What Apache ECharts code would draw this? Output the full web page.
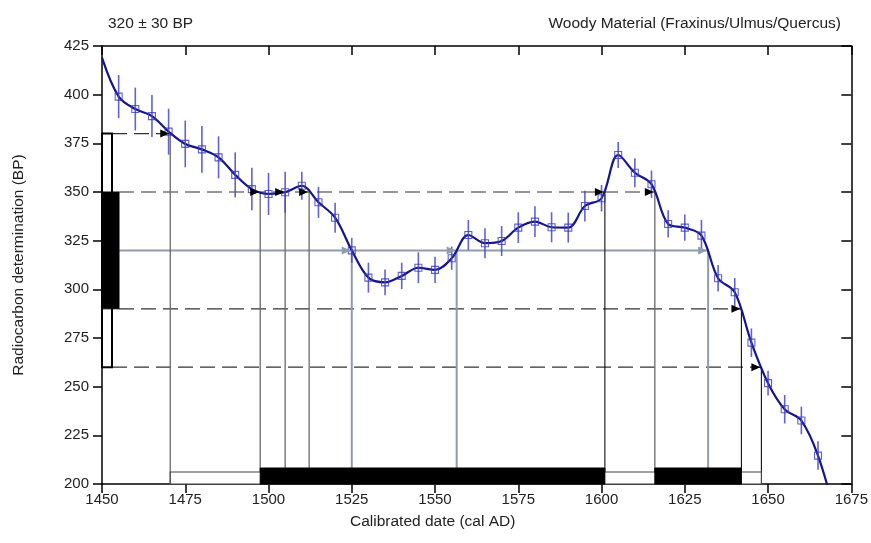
<!DOCTYPE html>
<html>
<head>
<meta charset="utf-8">
<script src="https://cdn.jsdelivr.net/npm/echarts@6/dist/echarts.min.js"></script>
<style>
html,body{margin:0;padding:0;background:#fff;}
#chart{width:871px;height:543px;}
</style>
</head>
<body>
<div id="chart"></div>
<script>
// ---- data ----
const titleLeft = '320 ± 30 BP';
const titleRight = 'Woody Material (Fraxinus/Ulmus/Quercus)';
const xTitle = 'Calibrated date (cal AD)';
const yTitle = 'Radiocarbon determination (BP)';

const curveYears = [1450,1455,1460,1465,1470,1475,1480,1485,1490,1495,1500,1505,1510,1515,1520,1525,1530,1535,1540,1545,1550,1555,1560,1565,1570,1575,1580,1585,1590,1595,1600,1605,1610,1615,1620,1625,1630,1635,1640,1645,1650,1655,1660,1665,1670];
const curveBP = [419,399,392.6,389,381,374.7,371.9,367.8,358.8,351.5,349,349.9,353.2,344.7,336.8,320,306,303.6,306.9,311.1,310,316,327.9,323.7,324.8,331.7,334.8,331.9,331.7,342.8,346.8,369,359.9,354,333.6,331.7,327.6,305.7,298.5,272.6,251.8,238.4,232.6,214.6,185];
const curveErr = [null,11.1,11,10.8,11.8,12,12,10.8,11.6,10.9,10.8,10.5,7.2,8,7.7,6.4,7.7,6.6,6.8,7.9,6.8,6,7.7,7.7,7.7,7.9,7.9,7.7,7.7,7.9,6.8,6.7,7.4,7,7,6.8,8.1,6.8,7.3,7.3,6.4,7.3,7.1,7.3,null];

const sampleMean = 320;
const sigma1 = [290, 350];
const sigma2 = [260, 380];
const levels = [380, 350, 320, 290, 260];
const crossings = [[1470.5],[1497.5,1505,1512.2,1601,1616],[1525,1556.5,1632],[1642],[1648]];
const range2 = [[1470.5,1648]];
const range1 = [[1497.5,1601],[1616,1642]];

const xMin = 1450, xMax = 1675, xStep = 25;
const yMin = 200, yMax = 425, yStep = 25;

// ---- derived ----
const curveData = curveYears.map((x,i)=>[x,curveBP[i]]);
const markerData = curveYears.map((x,i)=>[x,curveBP[i],curveErr[i]]).filter(d=>d[2]!==null);
const hLineData = levels.map((l,i)=>[Math.max.apply(null,crossings[i]), l]);
const vLineData = [];
crossings.forEach((arr,i)=>arr.forEach(x=>vLineData.push([x, levels[i]])));
const boxData = range2.map(r=>[r[0],r[1],2]).concat(range1.map(r=>[r[0],r[1],1]));

const GREY = '#6a6a6a', MEANC = '#8e9cab', DARK = '#111';
const blackCross = [1601,1642,1648];

function isSigma2(l){return l===sigma2[0]||l===sigma2[1];}

const FONT = '"Liberation Sans", Arial, sans-serif';
const chart = echarts.init(document.getElementById('chart'));
const axisFont = {fontFamily:FONT, fontSize:15, color:'#222'};
const nameFont = {fontFamily:FONT, fontSize:15.5, color:'#222'};
const titleStyle = {fontFamily:FONT,fontSize:15.5,fontWeight:'normal',color:'#222'};

chart.setOption({
  animation:false,
  backgroundColor:'#fff',
  title:[
    {text:titleLeft,left:103,top:11,textStyle:titleStyle},
    {text:titleRight,right:25,top:11,textStyle:titleStyle},
    {text:xTitle,left:345,top:509,textStyle:titleStyle}
  ],
  grid:{left:102,right:18,top:46,bottom:59,containLabel:false},
  xAxis:[
    {type:'value',min:xMin,max:xMax,interval:xStep,position:'bottom',
     axisLine:{lineStyle:{color:'#000',width:1.5}},
     axisTick:{inside:false,length:9,lineStyle:{color:'#000',width:1.5}},
     axisLabel:Object.assign({margin:8,formatter:v=>String(v)},axisFont),
     splitLine:{show:false}},
    {type:'value',min:xMin,max:xMax,interval:xStep,position:'top',
     axisLine:{onZero:false,lineStyle:{color:'#000',width:1.5}},
     axisTick:{inside:true,length:9,lineStyle:{color:'#000',width:1.5}},
     axisLabel:{show:false},splitLine:{show:false}}
  ],
  yAxis:[
    {type:'value',min:yMin,max:yMax,interval:yStep,position:'left',
     name:yTitle,nameLocation:'middle',nameGap:75,nameTextStyle:nameFont,
     axisLine:{onZero:false,lineStyle:{color:'#000',width:1.5}},
     axisTick:{inside:false,length:9,lineStyle:{color:'#000',width:1.5}},
     axisLabel:Object.assign({margin:13},axisFont),
     splitLine:{show:false}},
    {type:'value',min:yMin,max:yMax,interval:yStep,position:'right',
     axisLine:{onZero:false,lineStyle:{color:'#000',width:1.5}},
     axisTick:{inside:true,length:10,lineStyle:{color:'#000',width:1.5}},
     axisLabel:{show:false},splitLine:{show:false}}
  ],
  series:[
    {type:'custom',xAxisIndex:0,yAxisIndex:0,data:hLineData,z:2,
     renderItem:function(params,api){
       const end = api.coord([api.value(0),api.value(1)]);
       const l = api.value(1);
       const start = api.coord([xMin,l]);
       const sx = start[0] + (isSigma2(l)?10:17);
       const isMean = l===sampleMean;
       return {type:'line',shape:{x1:sx,y1:end[1],x2:end[0],y2:end[1]},
         style:{stroke:isMean?MEANC:'#333',lineWidth:isMean?2:1.2,lineDash:isMean?null:[15,7]}};
     }},
    {type:'custom',xAxisIndex:0,yAxisIndex:0,data:vLineData,z:2,
     renderItem:function(params,api){
       const x = api.value(0), l = api.value(1);
       const top = api.coord([x,l]);
       const bot = api.coord([x,yMin]);
       let col = GREY, w = 1.3;
       if(l===sampleMean){col=MEANC;w=2;}
       else if(blackCross.indexOf(x)>=0){col=DARK;w=1.1;}
       return {type:'line',shape:{x1:top[0],y1:top[1],x2:bot[0],y2:bot[1]},style:{stroke:col,lineWidth:w}};
     }},
    {type:'line',data:curveData,smooth:0.35,showSymbol:false,symbol:'none',clip:true,z:4,
     lineStyle:{color:'#15158a',width:2.2}},
    {type:'custom',data:markerData,z:5,
     renderItem:function(params,api){
       const x = api.value(0), y = api.value(1), e = api.value(2);
       const a = api.coord([x,y+e]), b = api.coord([x,y-e]);
       return {type:'line',shape:{x1:a[0],y1:a[1],x2:b[0],y2:b[1]},style:{stroke:'rgba(70,70,200,0.85)',lineWidth:1.6}};
     }},
    {type:'scatter',data:markerData.map(d=>[d[0],d[1]]),symbol:'rect',symbolSize:7,z:6,
     itemStyle:{color:'rgba(255,255,255,0)',borderColor:'#3838c0',borderWidth:1.1}},
    {type:'custom',data:vLineData,z:7,
     renderItem:function(params,api){
       const p = api.coord([api.value(0),api.value(1)]);
       const col = api.value(1)===sampleMean?MEANC:'#000';
       return {type:'polygon',shape:{points:[[p[0]-1,p[1]],[p[0]-10,p[1]-4],[p[0]-10,p[1]+4]]},style:{fill:col}};
     }},
    {type:'custom',data:[[sigma2[0],sigma2[1],2],[sigma1[0],sigma1[1],1]],z:8,
     renderItem:function(params,api){
       const lo = api.coord([xMin,api.value(0)]), hi = api.coord([xMin,api.value(1)]);
       const k = api.value(2);
       const w = k===2?10:17;
       return {type:'rect',shape:{x:lo[0],y:hi[1],width:w,height:lo[1]-hi[1]},
         style:k===2?{fill:'#fff',stroke:'#000',lineWidth:2}:{fill:'#000',stroke:'#000',lineWidth:1}};
     }},
    {type:'custom',data:boxData,z:8,
     renderItem:function(params,api){
       const a = api.coord([api.value(0),yMin]), b = api.coord([api.value(1),yMin]);
       const k = api.value(2);
       const h = k===2?12:16;
       return {type:'rect',shape:{x:a[0],y:a[1]-h,width:b[0]-a[0],height:h},
         style:k===2?{fill:'#fff',stroke:'#444',lineWidth:1.2}:{fill:'#000',stroke:'#000',lineWidth:1}};
     }}
  ]
});
</script>
</body>
</html>
